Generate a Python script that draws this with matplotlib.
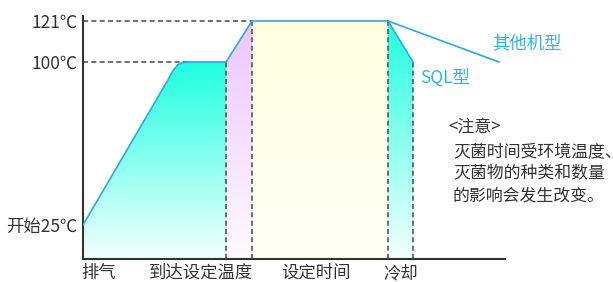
import numpy as np
import matplotlib.pyplot as plt
from matplotlib.patches import Polygon
from matplotlib.colors import to_rgb

plt.rcParams['font.family'] = ['Noto Sans CJK SC', 'DejaVu Sans']

# temperature curve of the SQL model (x = time, t = degC)
sql_x = [0, 84, 90, 95, 100, 106, 143, 169, 305, 330]
sql_t = [25, 91, 96, 98.8, 99.8, 100, 100, 121, 121, 100]
# cooling of the other models
other_x = [305, 416]
other_t = [121, 100]

phase_labels = ['排气', '到达设定温度', '设定时间', '冷却']
phase_label_x = [16, 118, 233, 318]
phase_edges = [0, 143, 169, 305, 330]
temp_ticks = [25, 100, 121]
temp_labels = ['开始25℃', '100℃', '121℃']

note_lines = ['灭菌时间受环境温度、', '灭菌物的种类和数量', '的影响会发生改变。']

# (top colour, bottom colour) of each stage
phase_colors = [('#1effe0', '#f4fffd'),
                ('#ecc6ff', '#fefaff'),
                ('#ffffe0', '#fffff7'),
                ('#1effe0', '#f4fffd')]

W, H = 613, 282
fig = plt.figure(figsize=(W / 100, H / 100), dpi=100)
ax = fig.add_axes([83 / W, 23 / H, 422 / W, 243 / H])

# the drawing is not to scale: 25->100 is stretched compared to 100->121
ky = [-200, 9.3, 25, 100, 121, 123.5, 400]
kp = [-454, 0, 34, 197, 238, 243, 796]
fwd = lambda v: np.interp(v, ky, kp)
inv = lambda p: np.interp(p, kp, ky)
ax.set_yscale('function', functions=(fwd, inv))

ymin, ymax = 9.3, 123.5
g = np.linspace(0, 1, 256)[:, None]
for i in range(4):
    x0, x1 = phase_edges[i], phase_edges[i + 1]
    pts = [(x, t) for x, t in zip(sql_x, sql_t) if x0 <= x <= x1]
    pts = pts + [(x1, ymin), (x0, ymin)]
    poly = Polygon(pts, closed=True, facecolor='none', edgecolor='none',
                   transform=ax.transData)
    ax.add_patch(poly)
    top_frac = fwd(max(t for _, t in pts)) / 243
    top, bot = np.array(to_rgb(phase_colors[i][0])), np.array(to_rgb(phase_colors[i][1]))
    f = np.clip(g / top_frac, 0, 1)[:, :, None]
    img = bot + (top - bot) * f
    img = np.repeat(img, 2, axis=1)
    im = ax.imshow(img, extent=[0, 1, 0, 1], transform=ax.transAxes,
                   origin='lower', aspect='auto', interpolation='bilinear', zorder=1)
    im.set_clip_path(poly)

dash = dict(color='#555555', lw=1.2, ls=(0, (3, 2)), zorder=2)
ax.plot([0, 169], [121, 121], **dash)
ax.plot([0, 106], [100, 100], **dash)
for x in phase_edges[1:]:
    ax.plot([x, x], [ymin, sql_t[sql_x.index(x)]], **dash)

ax.plot(sql_x, sql_t, color='#29abe2', lw=1.2, zorder=3)
ax.plot(other_x, other_t, color='#29abe2', lw=1.2, zorder=3)

ax.text(337, 93, 'SQL型', color='#29b6ee', fontsize=12.5, ha='left', va='center')
ax.text(444, 109.7, '其他机型', color='#29b6ee', fontsize=12.5, ha='center',
        va='center', clip_on=False)

ax.set_xlim(0, 422)
ax.set_ylim(ymin, ymax)
ax.set_xticks(phase_label_x, phase_labels)
ax.set_yticks(temp_ticks, temp_labels)
ax.tick_params(length=0, labelsize=12.5, colors='#333333')
ax.tick_params(axis='y', pad=4)
ax.tick_params(axis='x', pad=3.5)
ax.minorticks_off()
for s in ['top', 'right']:
    ax.spines[s].set_visible(False)
for s in ['left', 'bottom']:
    ax.spines[s].set_color('#333333')
    ax.spines[s].set_linewidth(1.5)

fig.text(448 / W, 1 - 127 / H, '<注意>', fontsize=12.2, color='#333333',
         ha='left', va='center')
for k, line in enumerate(note_lines):
    fig.text(453 / W, 1 - (152 + 21.5 * k) / H, line, fontsize=12.2,
             color='#333333', ha='left', va='center')

fig.savefig('out.png', dpi=100)
